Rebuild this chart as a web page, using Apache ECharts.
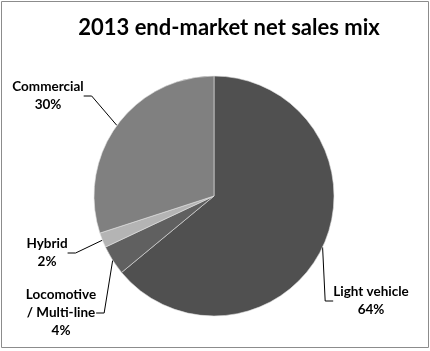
<!DOCTYPE html>
<html>
<head>
<meta charset="utf-8">
<script src="https://cdn.jsdelivr.net/npm/echarts@6/dist/echarts.min.js"></script>
<style>
  html, body { margin: 0; padding: 0; background: #fff; }
  #chart { width: 430px; height: 351px; }
</style>
</head>
<body>
<div id="chart"></div>
<script>
// Chart data
var categories = ['Light vehicle', 'Locomotive / Multi-line', 'Hybrid', 'Commercial'];
var shares = [64, 4, 2, 30];
var sliceColors = ['#505050', '#606060', '#b4b4b4', '#808080'];

// Where each label block sits (centre of the text block)
var labelSpots = [
  { x: 371, y: 301 },
  { x: 61, y: 313 },
  { x: 47, y: 253 },
  { x: 48, y: 96 }
];

document.addEventListener('DOMContentLoaded', function() {
  var dom = document.getElementById('chart');
  var chart = echarts.init(dom, null, { renderer: 'canvas' });

  var data = categories.map(function(name, i) {
    return { name: name, value: shares[i], itemStyle: { color: sliceColors[i] } };
  });

  var option = {
    animation: false,
    title: {
      text: '2013 end-market net sales mix',
      left: 224,
      top: 12,
      textAlign: 'center',
      textStyle: { fontFamily: 'Lato', fontWeight: 'bold', fontSize: 22, color: '#000' }
    },
    graphic: [{
      type: 'rect',
      shape: { x: 1.5, y: 1.5, width: 427, height: 346 },
      style: { fill: 'none', stroke: '#8c8c8c', lineWidth: 1 },
      silent: true
    }],
    series: [{
      type: 'pie',
      center: [214, 196],
      radius: 120,
      startAngle: 90,
      clockwise: true,
      data: data,
      itemStyle: { borderColor: '#e0e0e0', borderWidth: 0.6 },
      label: {
        show: true,
        formatter: function(p) {
          return p.name.replace(' / ', '\n/ ') + '\n' + Math.round(p.percent) + '%';
        },
        fontFamily: 'Lato',
        fontWeight: 'bold',
        fontSize: 13.5,
        lineHeight: 18,
        color: '#000',
        align: 'center',
        overflow: 'none'
      },
      labelLine: {
        show: true,
        length: 10,
        length2: 8,
        lineStyle: { color: '#000', width: 1 }
      },
      labelLayout: function(params) {
        var spot = labelSpots[params.dataIndex];
        return { x: spot.x, y: spot.y, align: 'center', verticalAlign: 'middle' };
      }
    }]
  };

  chart.setOption(option);
});
</script>
</body>
</html>
